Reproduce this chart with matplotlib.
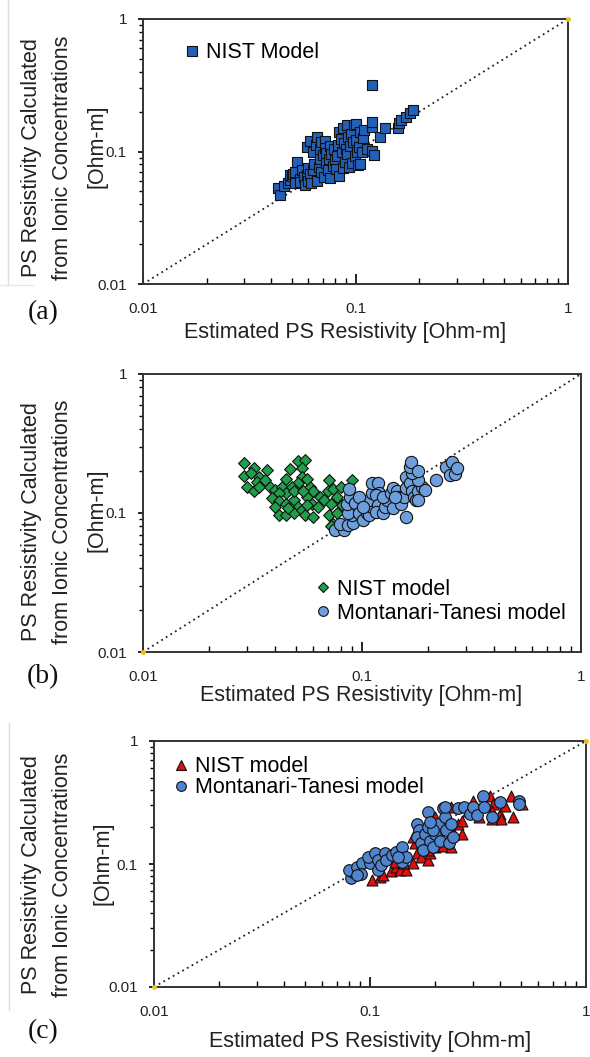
import matplotlib
matplotlib.use("Agg")
import matplotlib.pyplot as plt
from matplotlib.lines import Line2D
import numpy as np

# ---- data ----
# (a) NIST model
a_nist_x = [0.043, 0.044, 0.046, 0.048, 0.049, 0.049, 0.050, 0.051, 0.052, 0.052, 0.053, 0.055,
            0.055, 0.056, 0.057, 0.058, 0.059, 0.059, 0.060, 0.060, 0.061, 0.061, 0.062, 0.063,
            0.063, 0.064, 0.065, 0.066, 0.066, 0.067, 0.068, 0.068, 0.069, 0.069, 0.070, 0.071,
            0.072, 0.072, 0.073, 0.073, 0.074, 0.075, 0.076, 0.076, 0.077, 0.078, 0.079, 0.080,
            0.081, 0.082, 0.083, 0.084, 0.084, 0.085, 0.086, 0.087, 0.087, 0.088, 0.089, 0.090,
            0.091, 0.091, 0.092, 0.093, 0.094, 0.095, 0.096, 0.097, 0.098, 0.099, 0.100, 0.101,
            0.102, 0.103, 0.104, 0.105, 0.105, 0.107, 0.108, 0.110, 0.113, 0.119, 0.119, 0.119,
            0.120, 0.122, 0.130, 0.138, 0.158, 0.160, 0.164, 0.172, 0.180, 0.186]
a_nist_y = [0.053, 0.047, 0.055, 0.058, 0.061, 0.066, 0.065, 0.068, 0.058, 0.070, 0.083, 0.062,
            0.059, 0.072, 0.064, 0.056, 0.066, 0.108, 0.060, 0.075, 0.068, 0.120, 0.058, 0.072,
            0.100, 0.080, 0.112, 0.060, 0.129, 0.076, 0.088, 0.105, 0.070, 0.118, 0.094, 0.064,
            0.120, 0.106, 0.082, 0.098, 0.072, 0.088, 0.063, 0.110, 0.095, 0.078, 0.104, 0.086,
            0.074, 0.092, 0.112, 0.065, 0.140, 0.125, 0.100, 0.075, 0.150, 0.116, 0.084, 0.105,
            0.158, 0.095, 0.128, 0.077, 0.110, 0.136, 0.082, 0.118, 0.158, 0.093, 0.122, 0.160,
            0.100, 0.079, 0.108, 0.140, 0.081, 0.100, 0.126, 0.145, 0.104, 0.153, 0.167, 0.318,
            0.101, 0.094, 0.129, 0.150, 0.150, 0.164, 0.172, 0.183, 0.195, 0.206]

# (b) NIST model / Montanari-Tanesi model
b_nist_x = [0.029, 0.032, 0.029, 0.031, 0.034, 0.037, 0.033, 0.030, 0.032, 0.034, 0.038, 0.040,
            0.043, 0.045, 0.047, 0.051, 0.055, 0.053, 0.053, 0.051, 0.048, 0.045, 0.042, 0.039,
            0.042, 0.040, 0.045, 0.049, 0.051, 0.042, 0.045, 0.049, 0.053, 0.055, 0.060, 0.058,
            0.056, 0.060, 0.059, 0.064, 0.063, 0.067, 0.070, 0.071, 0.074, 0.072, 0.077, 0.081,
            0.071, 0.077, 0.074, 0.072, 0.090, 0.080, 0.056, 0.049, 0.054, 0.046, 0.056, 0.036]
b_nist_y = [0.228, 0.210, 0.185, 0.193, 0.183, 0.204, 0.166, 0.155, 0.143, 0.155, 0.155, 0.147,
            0.155, 0.176, 0.206, 0.237, 0.241, 0.210, 0.183, 0.164, 0.153, 0.139, 0.139, 0.128,
            0.121, 0.111, 0.117, 0.124, 0.111, 0.097, 0.097, 0.0995, 0.105, 0.097, 0.094, 0.153,
            0.131, 0.143, 0.117, 0.131, 0.111, 0.124, 0.143, 0.173, 0.150, 0.117, 0.131, 0.114,
            0.097, 0.0995, 0.084, 0.080, 0.173, 0.155, 0.176, 0.143, 0.143, 0.108, 0.114, 0.173]
b_mt_x = [0.075, 0.083, 0.079, 0.086, 0.091, 0.090, 0.086, 0.085, 0.088, 0.087, 0.093, 0.097,
          0.101, 0.105, 0.108, 0.111, 0.108, 0.111, 0.111, 0.118, 0.120, 0.116, 0.118, 0.116,
          0.125, 0.127, 0.130, 0.125, 0.136, 0.138, 0.144, 0.147, 0.138, 0.150, 0.156, 0.159,
          0.159, 0.166, 0.169, 0.173, 0.176, 0.180, 0.187, 0.180, 0.169, 0.166, 0.167, 0.180,
          0.159, 0.180, 0.194, 0.218, 0.241, 0.257, 0.252, 0.267, 0.271, 0.097, 0.101, 0.141]
b_mt_y = [0.075, 0.076, 0.084, 0.082, 0.085, 0.096, 0.0995, 0.117, 0.131, 0.149, 0.118, 0.0995,
          0.089, 0.0995, 0.096, 0.111, 0.124, 0.140, 0.164, 0.164, 0.140, 0.134, 0.114, 0.102,
          0.0995, 0.111, 0.124, 0.131, 0.139, 0.151, 0.144, 0.131, 0.108, 0.117, 0.131, 0.151,
          0.183, 0.164, 0.144, 0.131, 0.124, 0.144, 0.155, 0.173, 0.193, 0.216, 0.232, 0.199,
          0.094, 0.124, 0.147, 0.173, 0.213, 0.232, 0.187, 0.192, 0.209, 0.131, 0.111, 0.131]

# (c) NIST model / Montanari-Tanesi model
c_nist_x = [0.102, 0.111, 0.115, 0.125, 0.132, 0.137, 0.146, 0.130, 0.143, 0.158, 0.165, 0.161,
            0.172, 0.186, 0.190, 0.158, 0.201, 0.218, 0.236, 0.231, 0.246, 0.267, 0.256, 0.267,
            0.226, 0.201, 0.236, 0.283, 0.301, 0.338, 0.360, 0.372, 0.366, 0.398, 0.422, 0.406,
            0.366, 0.449, 0.458, 0.506, 0.320, 0.209, 0.180, 0.301, 0.186]
c_nist_y = [0.074, 0.079, 0.081, 0.087, 0.095, 0.089, 0.089, 0.104, 0.101, 0.101, 0.122, 0.147,
            0.114, 0.107, 0.122, 0.166, 0.137, 0.140, 0.137, 0.166, 0.176, 0.176, 0.212, 0.225,
            0.257, 0.241, 0.290, 0.272, 0.326, 0.308, 0.358, 0.308, 0.272, 0.257, 0.298, 0.233,
            0.233, 0.358, 0.241, 0.308, 0.241, 0.188, 0.166, 0.280, 0.129]
c_mt_x = [0.082, 0.083, 0.080, 0.087, 0.092, 0.0905, 0.100, 0.098, 0.106, 0.109, 0.109, 0.112,
          0.117, 0.119, 0.127, 0.132, 0.140, 0.140, 0.146, 0.165, 0.169, 0.165, 0.172, 0.180,
          0.176, 0.186, 0.186, 0.190, 0.196, 0.201, 0.206, 0.211, 0.218, 0.222, 0.222, 0.226,
          0.231, 0.236, 0.241, 0.256, 0.272, 0.289, 0.301, 0.313, 0.332, 0.338, 0.366, 0.398,
          0.492, 0.492, 0.196, 0.135, 0.087, 0.190]
c_mt_y = [0.077, 0.086, 0.089, 0.094, 0.101, 0.083, 0.101, 0.114, 0.122, 0.107, 0.089, 0.098,
          0.122, 0.107, 0.119, 0.125, 0.137, 0.104, 0.114, 0.210, 0.188, 0.166, 0.147, 0.176,
          0.129, 0.264, 0.200, 0.155, 0.137, 0.176, 0.212, 0.155, 0.286, 0.241, 0.292, 0.188,
          0.147, 0.212, 0.166, 0.286, 0.292, 0.257, 0.292, 0.250, 0.358, 0.292, 0.241, 0.317,
          0.327, 0.308, 0.188, 0.114, 0.081, 0.220]

diag = [0.01, 1]
tick_vals = [0.01, 0.1, 1]
tick_text = ["0.01", "0.1", "1"]

ylab_lines = ["PS Resistivity Calculated", "from Ionic Concentrations", "[Ohm-m]"]
xlab = "Estimated PS Resistivity [Ohm-m]"

SANS = ["Liberation Sans", "DejaVu Sans"]
SERIF = ["Liberation Serif", "DejaVu Serif"]

fig = plt.figure(figsize=(5.9, 10.57), dpi=100)
W, H = 590.0, 1057.0


def make_axes(l, r, t, b):
    return fig.add_axes([l / W, 1 - b / H, (r - l) / W, (b - t) / H])


def style(ax, dots):
    ax.set_xscale("log")
    ax.set_yscale("log")
    ax.set_xlim(0.01, 1)
    ax.set_ylim(0.01, 1)
    ax.plot(diag, diag, ls=(0, (1, 2)), color="#222222", lw=1.3, zorder=1)
    for d in dots:
        ax.plot(d, d, "o", ms=2.5, color="#f0c020", clip_on=False, zorder=5)
    ax.set_xticks(tick_vals)
    ax.set_xticklabels(tick_text)
    ax.set_yticks(tick_vals)
    ax.set_yticklabels(tick_text)
    ax.tick_params(axis="x", which="major", direction="in", length=7, width=1.2, pad=13)
    ax.tick_params(axis="x", which="minor", direction="in", length=4.5, width=1.0)
    ax.tick_params(axis="y", which="major", direction="out", length=3.6, width=1.2, pad=8)
    ax.tick_params(axis="y", which="minor", direction="out", length=3, width=1.0)
    for lab in ax.get_xticklabels() + ax.get_yticklabels():
        lab.set_family(SANS)
        lab.set_fontsize(11)
        lab.set_color("#222222")
    for s in ax.spines.values():
        s.set_linewidth(1.4)
        s.set_color("#333333")


def side_labels(yc, xs, letter, ly, xc, xy):
    offs = [0, 0, -12]
    for x, txt, o in zip(xs, ylab_lines, offs):
        fig.text(x / W, 1 - (yc + o) / H, txt, rotation=90, ha="center", va="center",
                 family=SANS, fontsize=15.5, color="#222222")
    fig.text(43 / W, 1 - ly / H, letter, ha="center", va="center", family=SERIF,
             fontsize=20, color="#111111")
    fig.text(xc / W, 1 - xy / H, xlab, ha="center", va="center", family=SANS,
             fontsize=15.5, color="#222222")


def add_legend(ax, handles, labels, anchor, spacing):
    ax.legend(handles, labels, loc="center left", bbox_to_anchor=anchor, frameon=False,
              borderpad=0, borderaxespad=0, handlelength=0.5, handletextpad=0.4,
              labelspacing=spacing, prop={"family": SANS, "size": 15.5})


# ---- (a) ----
ax1 = make_axes(143, 568, 19, 284)
style(ax1, [1])
ax1.scatter(a_nist_x, a_nist_y, marker="s", s=55, c="#2360b8", edgecolors="#111111",
            linewidths=0.8, zorder=3)
h = Line2D([], [], ls="", marker="s", ms=6.5, mfc="#2360b8", mec="#111111", mew=0.8)
add_legend(ax1, [h], ["NIST Model"], (0.103, 0.872), 0.1)
side_labels(158, [32, 62, 97], "(a)", 313, 345, 333)

# ---- (b) ----
ax2 = make_axes(143, 581, 374, 652)
style(ax2, [0.01])
ax2.scatter(b_nist_x, b_nist_y, marker="D", s=36, c="#1f9e4b", edgecolors="#111111",
            linewidths=0.8, zorder=3)
ax2.scatter(b_mt_x, b_mt_y, marker="o", s=78, c="#6e9fdc", edgecolors="#111111",
            linewidths=0.8, zorder=4)
h1 = Line2D([], [], ls="", marker="D", ms=5.5, mfc="#1f9e4b", mec="#111111", mew=0.8)
h2 = Line2D([], [], ls="", marker="o", ms=7, mfc="#6e9fdc", mec="#111111", mew=0.8)
add_legend(ax2, [h1, h2], ["NIST model", "Montanari-Tanesi model"], (0.398, 0.183), 0.15)
side_labels(522, [32, 62, 97], "(b)", 677, 361, 695)

# ---- (c) ----
ax3 = make_axes(154, 586, 741, 987)
style(ax3, [0.01, 1])
ax3.scatter(c_nist_x, c_nist_y, marker="^", s=62, c="#e00f0f", edgecolors="#111111",
            linewidths=0.8, zorder=3)
ax3.scatter(c_mt_x, c_mt_y, marker="o", s=70, c="#4f84cf", edgecolors="#111111",
            linewidths=0.8, zorder=4)
h1 = Line2D([], [], ls="", marker="^", ms=7, mfc="#e00f0f", mec="#111111", mew=0.8)
h2 = Line2D([], [], ls="", marker="o", ms=7, mfc="#4f84cf", mec="#111111", mew=0.8)
add_legend(ax3, [h1, h2], ["NIST model", "Montanari-Tanesi model"], (0.050, 0.852), 0.0)
side_labels(875, [32, 62, 103], "(c)", 1032, 370, 1042)

# faint scan edges
fig.add_artist(Line2D([8 / W, 8 / W], [1, 1 - 285 / H], color="#dddddd", lw=1))
fig.add_artist(Line2D([0, 33 / W], [1 - 285 / H, 1 - 285 / H], color="#e6e6e6", lw=1))
fig.add_artist(Line2D([9 / W, 9 / W], [1 - 723 / H, 1 - 1010 / H], color="#dddddd", lw=1))

fig.savefig("out.png", dpi=100)
